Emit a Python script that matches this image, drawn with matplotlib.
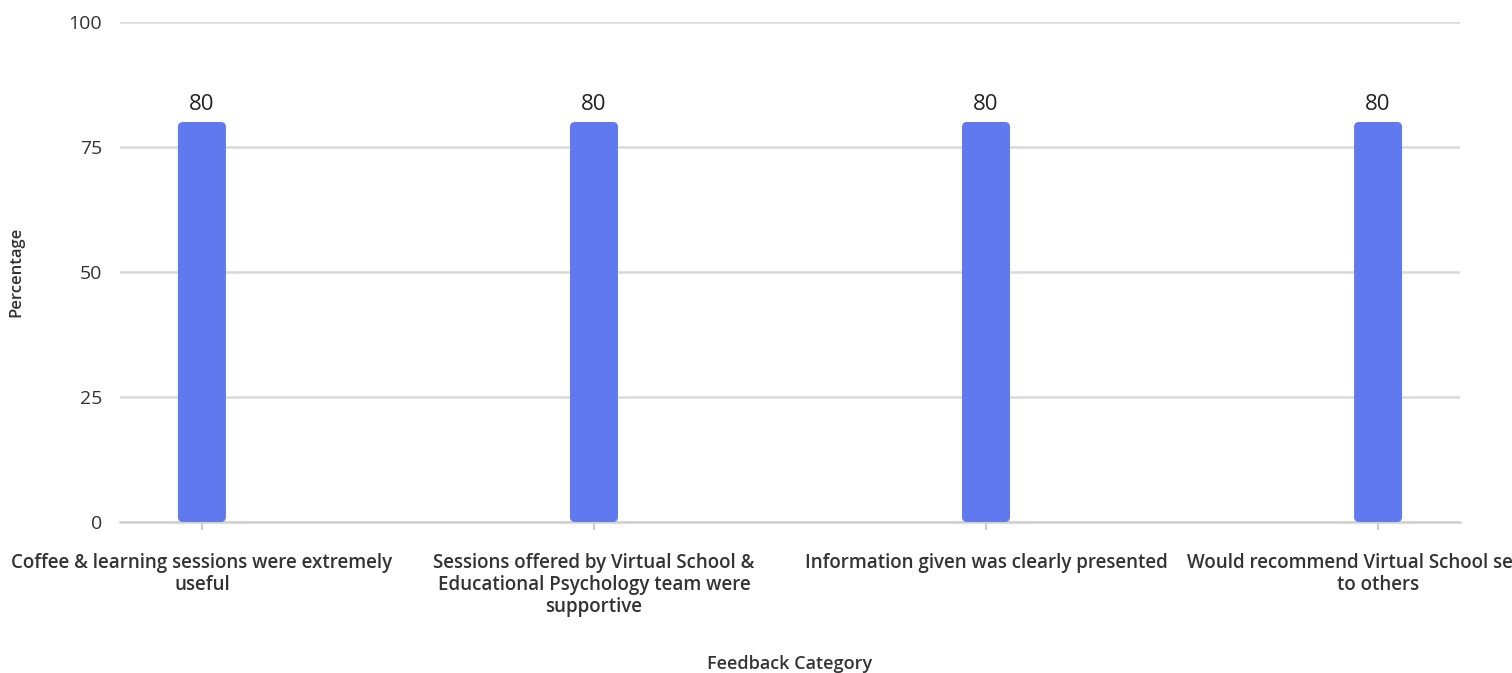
import numpy as np
import matplotlib.pyplot as plt
from matplotlib.patches import FancyBboxPatch

categories = [
    "Coffee & learning sessions were extremely\nuseful",
    "Sessions offered by Virtual School &\nEducational Psychology team were\nsupportive",
    "Information given was clearly presented",
    "Would recommend Virtual School sessions\nto others",
]
values = [80, 80, 80, 80]
yticks = [0, 25, 50, 75, 100]

plt.rcParams['font.family'] = ['Open Sans', 'DejaVu Sans']

fig = plt.figure(figsize=(15.12, 6.73), dpi=100)
ax = fig.add_axes([120 / 1512, 1 - 522 / 673, 1340 / 1512, 500 / 673])

x = np.arange(len(categories))
width = 0.1224
bars = ax.bar(x, values, width=width, color='none')
for b in bars:
    r = 0.0128
    patch = FancyBboxPatch((b.get_x(), b.get_y()), b.get_width(), b.get_height(),
                           boxstyle=f"round,pad=0,rounding_size={r}",
                           mutation_aspect=78.4, fc='#6079EE', ec='none', zorder=3)
    ax.add_patch(patch)
    b.remove()

for xi, v in zip(x, values):
    ax.text(xi, v + 1.5, str(v), ha='center', va='bottom', fontsize=16, color='#222222')

ax.set_xlim(-0.209, 3.209)
ax.set_ylim(0, 100)
ax.set_yticks(yticks)
ax.set_xticks(x)
ax.set_xticklabels(categories, fontsize=13.5, fontweight='semibold', color='#333333',
                   linespacing=1.15)
ax.tick_params(axis='y', length=0, pad=13, labelsize=14, labelcolor='#333333')
ax.tick_params(axis='x', length=6, width=1.5, color='#cccccc', pad=16)
ax.grid(axis='y', color='#d9d9d9', linewidth=1.8, zorder=0)
ax.set_axisbelow(True)
for s in ['top', 'right', 'left']:
    ax.spines[s].set_visible(False)
ax.spines['bottom'].set_color('#d0d0d0')
ax.spines['bottom'].set_linewidth(1.8)

ax.set_ylabel('Percentage', fontsize=12, fontweight='semibold', color='#333333')
ax.yaxis.set_label_coords(-96 / 1340, 0.5)
ax.set_xlabel('Feedback Category', fontsize=13, fontweight='semibold', color='#333333')
ax.xaxis.set_label_coords(0.5, -(655 - 522) / 500)

fig.savefig('out.png', dpi=100)
